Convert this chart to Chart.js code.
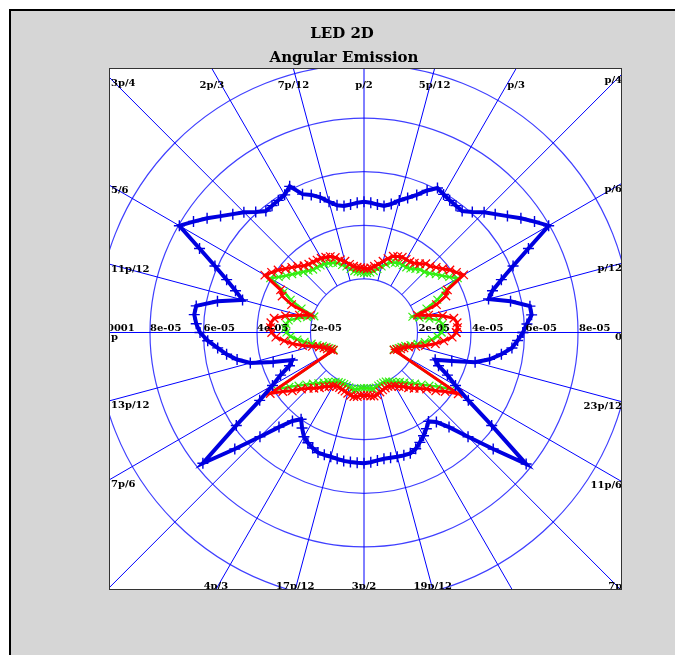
<!DOCTYPE html>
<html>
<head>
<meta charset="utf-8">
<script src="https://cdn.jsdelivr.net/npm/chart.js@4.4.1/dist/chart.umd.min.js"></script>
<style>
  html, body { margin: 0; padding: 0; background: #fff; }
  canvas { display: block; }
</style>
</head>
<body>
<canvas id="ledPolar" width="675" height="655"></canvas>
<script>
// angles in degrees, radii in units of 1e-5
const UNIT = 1e-5;
const angleDeg = [
  0, 3, 6, 9, 12, 15, 18, 21, 24, 27, 30, 33, 36, 39, 42, 45, 48, 51, 54, 57,
  60, 63, 66, 69, 72, 75, 78, 81, 84, 87, 90, 93, 96, 99, 102, 105, 108, 111, 114, 117,
  120, 123, 126, 129, 132, 135, 138, 141, 144, 147, 150, 153, 156, 159, 162, 165, 168, 171, 174, 177,
  180, 183, 186, 189, 192, 195, 198, 201, 204, 207, 210, 213, 216, 219, 222, 225, 228, 231, 234, 237,
  240, 243, 246, 249, 252, 255, 258, 261, 264, 267, 270, 273, 276, 279, 282, 285, 288, 291, 294, 297,
  300, 303, 306, 309, 312, 315, 318, 321, 324, 327, 330, 333, 336, 339, 342, 345, 348, 351, 354, 357,
  360
];
const rBlue = [
  5.94, 6.10, 6.30, 6.28, 5.60, 4.82, 5.05, 5.50, 6.10, 6.90, 7.97, 7.60, 7.25, 6.90, 6.60, 6.35, 6.05, 5.83, 5.85, 5.88,
  5.95, 6.05, 5.80, 5.50, 5.28, 5.10, 4.90, 4.78, 4.80, 4.85, 4.88, 4.85, 4.80, 4.78, 4.85, 5.05, 5.30, 5.50, 5.65, 6.12,
  5.93, 5.88, 5.85, 5.83, 6.05, 6.35, 6.60, 6.90, 7.25, 7.60, 7.97, 6.90, 6.10, 5.50, 5.05, 4.70, 5.60, 6.35, 6.38, 6.28,
  6.13, 5.85, 5.50, 5.20, 4.85, 4.40, 3.57, 2.87, 3.05, 3.50, 3.95, 4.65, 5.90, 7.75, 6.50, 5.50, 4.75, 4.25, 4.00, 4.25,
  4.49, 4.62, 4.72, 4.80, 4.80, 4.80, 4.82, 4.85, 4.86, 4.87, 4.88, 4.85, 4.80, 4.77, 4.78, 4.80, 4.82, 4.83, 4.75, 4.60,
  4.45, 4.28, 4.10, 4.30, 4.75, 5.50, 6.50, 7.80, 5.90, 4.65, 3.95, 3.50, 3.05, 2.85, 3.45, 4.30, 4.80, 5.20, 5.56, 5.75,
  5.94
];
const rRed = [
  3.45, 3.50, 3.50, 3.40, 3.00, 2.50, 2.10, 2.90, 3.35, 3.50, 4.30, 4.12, 3.97, 3.78, 3.63, 3.50, 3.45, 3.30, 3.20, 3.15,
  3.15, 3.15, 3.10, 3.05, 2.90, 2.75, 2.60, 2.50, 2.42, 2.38, 2.40, 2.42, 2.45, 2.50, 2.60, 2.75, 2.85, 3.00, 3.10, 3.15,
  3.20, 3.22, 3.25, 3.28, 3.35, 3.50, 3.63, 3.78, 3.97, 4.12, 4.28, 3.50, 3.35, 2.90, 2.10, 2.50, 3.00, 3.40, 3.50, 3.50,
  3.45, 3.30, 3.00, 2.70, 2.35, 2.00, 1.75, 1.60, 1.50, 1.40, 1.33, 4.18, 3.75, 3.45, 3.15, 2.95, 2.80, 2.65, 2.50, 2.40,
  2.30, 2.25, 2.25, 2.28, 2.30, 2.35, 2.40, 2.42, 2.40, 2.35, 2.35, 2.35, 2.38, 2.40, 2.38, 2.30, 2.25, 2.22, 2.20, 2.25,
  2.30, 2.40, 2.50, 2.65, 2.80, 2.95, 3.15, 3.45, 3.75, 4.20, 1.30, 1.40, 1.50, 1.60, 1.75, 2.00, 2.35, 2.70, 3.00, 3.30,
  3.45
];
const rGreen = [
  2.90, 2.95, 2.95, 2.85, 2.50, 2.15, 1.90, 2.50, 3.00, 3.40, 4.05, 3.80, 3.60, 3.45, 3.30, 3.20, 3.15, 3.05, 2.95, 2.90,
  2.90, 2.90, 2.85, 2.80, 2.68, 2.55, 2.42, 2.32, 2.25, 2.22, 2.22, 2.25, 2.28, 2.32, 2.42, 2.55, 2.65, 2.78, 2.85, 2.90,
  2.95, 2.98, 3.00, 3.02, 3.10, 3.20, 3.32, 3.45, 3.60, 3.80, 4.05, 3.35, 3.00, 2.50, 1.95, 2.20, 2.55, 2.85, 2.92, 2.95,
  2.90, 2.75, 2.50, 2.25, 2.00, 1.80, 1.62, 1.50, 1.42, 1.35, 1.30, 3.90, 3.45, 3.15, 2.90, 2.70, 2.55, 2.40, 2.28, 2.20,
  2.12, 2.08, 2.06, 2.06, 2.08, 2.12, 2.15, 2.15, 2.12, 2.08, 2.07, 2.08, 2.10, 2.12, 2.10, 2.05, 2.02, 2.00, 2.00, 2.05,
  2.12, 2.20, 2.28, 2.40, 2.55, 2.70, 2.90, 3.15, 3.45, 3.90, 1.28, 1.35, 1.42, 1.50, 1.62, 1.80, 2.05, 2.30, 2.55, 2.75,
  2.90
];

// grid
const rTicks = [2e-5, 4e-5, 6e-5, 8e-5, 1e-4];
const rTickLabels = ['2e-05', '4e-05', '6e-05', '8e-05', '0.0001'];
const thetaLabels = ['0', 'p/12', 'p/6', 'p/4', 'p/3', '5p/12', 'p/2', '7p/12', '2p/3', '3p/4', '5/6', '11p/12',
  'p', '13p/12', '7p/6', '', '4p/3', '17p/12', '3p/2', '19p/12', '', '7p/4', '11p/6', '23p/12'];
const titleLines = ['LED 2D', 'Angular Emission'];

function toXY(r) {
  return angleDeg.map((a, i) => {
    const t = a * Math.PI / 180;
    return { x: r[i] * UNIT * Math.cos(t), y: r[i] * UNIT * Math.sin(t) };
  });
}

const FONT = 'bold 10px "DejaVu Serif"';

const polarGrid = {
  id: 'polarGrid',
  beforeDraw(chart) {
    const { ctx, chartArea: a } = chart;
    ctx.save();
    ctx.fillStyle = '#fff';
    ctx.fillRect(0, 0, chart.width, chart.height);
    ctx.fillStyle = '#d6d6d6';
    ctx.fillRect(9, 9, chart.width, chart.height);
    ctx.fillStyle = '#000';
    ctx.fillRect(9, 9, chart.width, 2);
    ctx.fillRect(9, 9, 2, chart.height);
    ctx.fillStyle = '#fff';
    ctx.fillRect(a.left, a.top, a.right - a.left, a.bottom - a.top);
    // titles
    ctx.fillStyle = '#000';
    ctx.font = 'bold 15px "DejaVu Serif"';
    ctx.textAlign = 'center';
    ctx.textBaseline = 'alphabetic';
    ctx.fillText(titleLines[0], 342, 38);
    ctx.fillText(titleLines[1], 344, 62);
    ctx.restore();
  },
  beforeDatasetsDraw(chart) {
    const { ctx, chartArea: a, scales: { x, y } } = chart;
    const cx = x.getPixelForValue(0), cy = y.getPixelForValue(0);
    ctx.save();
    ctx.beginPath();
    ctx.rect(a.left, a.top, a.right - a.left, a.bottom - a.top);
    ctx.clip();
    ctx.lineWidth = 1.2;
    ctx.strokeStyle = '#4040ff';
    rTicks.forEach(r => {
      const rx = x.getPixelForValue(r) - cx, ry = cy - y.getPixelForValue(r);
      ctx.beginPath();
      ctx.ellipse(cx, cy, rx, ry, 0, 0, Math.PI * 2);
      ctx.stroke();
    });
    ctx.lineWidth = 1;
    ctx.strokeStyle = '#0000ff';
    const r0 = rTicks[0], r1 = 3e-4;
    for (let k = 0; k < 24; k++) {
      const t = k * Math.PI / 12;
      ctx.beginPath();
      ctx.moveTo(x.getPixelForValue(r0 * Math.cos(t)), y.getPixelForValue(r0 * Math.sin(t)));
      ctx.lineTo(x.getPixelForValue(r1 * Math.cos(t)), y.getPixelForValue(r1 * Math.sin(t)));
      ctx.stroke();
    }
    ctx.restore();
  },
  afterDatasetsDraw(chart) {
    const { ctx, chartArea: a, scales: { x, y } } = chart;
    const cx = x.getPixelForValue(0), cy = y.getPixelForValue(0);
    ctx.save();
    ctx.beginPath();
    ctx.rect(a.left, a.top, a.right - a.left, a.bottom - a.top);
    ctx.clip();
    ctx.fillStyle = '#000';
    ctx.font = FONT;
    ctx.textAlign = 'left';
    ctx.textBaseline = 'alphabetic';
    rTicks.forEach((r, i) => {
      ctx.fillText(rTickLabels[i], x.getPixelForValue(r) + 1, cy - 1);
      ctx.fillText(rTickLabels[i], x.getPixelForValue(-r), cy - 1);
    });
    // angle labels where each spoke meets the border
    ctx.textBaseline = 'middle';
    thetaLabels.forEach((lab, k) => {
      if (!lab) return;
      const t = k * Math.PI / 12;
      const dx = Math.cos(t), dy = -Math.sin(t);
      let best = Infinity, side = '';
      if (dx > 1e-9) { const s = (a.right - cx) / dx; if (s < best) { best = s; side = 'R'; } }
      if (dx < -1e-9) { const s = (a.left - cx) / dx; if (s < best) { best = s; side = 'L'; } }
      if (dy < -1e-9) { const s = (a.top - cy) / dy; if (s < best) { best = s; side = 'T'; } }
      if (dy > 1e-9) { const s = (a.bottom - cy) / dy; if (s < best) { best = s; side = 'B'; } }
      const ix = cx + dx * best, iy = cy + dy * best;
      if (side === 'T') { ctx.textAlign = 'center'; ctx.fillText(lab, ix, a.top + 16); }
      else if (side === 'B') { ctx.textAlign = 'center'; ctx.fillText(lab, ix, a.bottom - 3); }
      else if (side === 'L') { ctx.textAlign = 'left'; ctx.fillText(lab, a.left + 1, iy + 5); }
      else { ctx.textAlign = 'right'; ctx.fillText(lab, a.right + 1, iy + 5); }
    });
    ctx.restore();
  },
  afterDraw(chart) {
    const { ctx, chartArea: a } = chart;
    ctx.save();
    ctx.strokeStyle = '#333';
    ctx.lineWidth = 1;
    ctx.strokeRect(a.left - 0.5, a.top - 0.5, a.right - a.left + 1, a.bottom - a.top + 1);
    ctx.restore();
  }
};

new Chart(document.getElementById('ledPolar').getContext('2d'), {
  type: 'scatter',
  data: {
    datasets: [
      {
        label: 'blue',
        data: toXY(rBlue),
        showLine: true,
        borderColor: '#0000e0',
        backgroundColor: '#0000e0',
        borderWidth: 4,
        borderJoinStyle: 'miter',
        pointStyle: 'cross',
        pointRadius: 5.5,
        pointBorderWidth: 1.4,
        order: 0
      },
      {
        label: 'red',
        data: toXY(rRed),
        showLine: true,
        borderColor: '#ff0000',
        backgroundColor: '#ff0000',
        borderWidth: 3,
        pointStyle: 'crossRot',
        pointRadius: 6,
        pointBorderWidth: 1.3,
        order: 1
      },
      {
        label: 'green',
        data: toXY(rGreen),
        showLine: true,
        borderColor: '#33ee11',
        backgroundColor: '#33ee11',
        borderWidth: 2.5,
        pointStyle: 'crossRot',
        pointRadius: 5.5,
        pointBorderWidth: 1.2,
        order: 2
      }
    ]
  },
  options: {
    responsive: false,
    animation: false,
    devicePixelRatio: 1,
    layout: { padding: { left: 110, top: 69, right: 54, bottom: 66 } },
    scales: {
      x: { type: 'linear', display: false, min: -9.495e-5, max: 9.607e-5 },
      y: { type: 'linear', display: false, min: -9.571e-5, max: 9.832e-5 }
    },
    plugins: {
      legend: { display: false },
      tooltip: { enabled: false },
      title: { display: false }
    }
  },
  plugins: [polarGrid]
});
</script>
</body>
</html>
